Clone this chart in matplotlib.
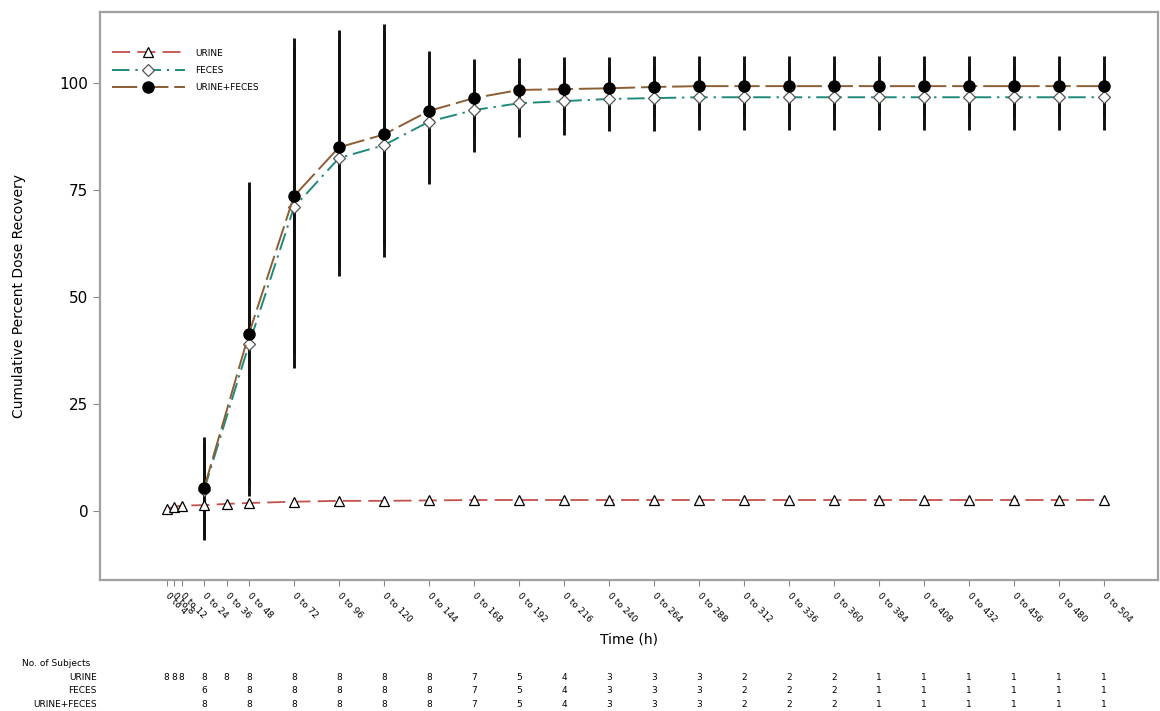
import matplotlib
matplotlib.use("Agg")
import matplotlib.pyplot as plt
import matplotlib.transforms as mtransforms

plt.rcParams['font.family'] = ['DejaVu Sans']

# ---- data ----
urine_time = [4, 8, 12, 24, 36, 48, 72, 96, 120, 144, 168, 192, 216, 240, 264,
              288, 312, 336, 360, 384, 408, 432, 456, 480, 504]
urine_mean = [0.5, 1.0, 1.3, 1.4, 1.7, 1.9, 2.2, 2.4, 2.4, 2.5, 2.6, 2.6, 2.6, 2.6, 2.6,
              2.6, 2.6, 2.6, 2.6, 2.6, 2.6, 2.6, 2.6, 2.6, 2.6]
urine_n = [8, 8, 8, 8, 8, 8, 8, 8, 8, 8, 7, 5, 4, 3, 3, 3, 2, 2, 2, 1, 1, 1, 1, 1, 1]

fec_time = [24, 48, 72, 96, 120, 144, 168, 192, 216, 240, 264, 288, 312, 336, 360,
            384, 408, 432, 456, 480, 504]
fec_mean = [4.9, 39.0, 71.0, 82.5, 85.5, 91.0, 93.7, 95.3, 95.8, 96.3, 96.5, 96.7, 96.7,
            96.7, 96.7, 96.7, 96.7, 96.7, 96.7, 96.7, 96.7]
fec_sd = [11.0, 35.5, 37.5, 27.5, 26.2, 14.5, 9.8, 8.0, 8.0, 7.6, 7.6, 7.6, 7.6,
          7.6, 7.6, 7.6, 7.6, 7.6, 7.6, 7.6, 7.6]
fec_n = [6, 8, 8, 8, 8, 8, 7, 5, 4, 3, 3, 3, 2, 2, 2, 1, 1, 1, 1, 1, 1]

comb_time = fec_time
comb_mean = [5.3, 41.5, 73.6, 85.0, 88.0, 93.5, 96.5, 98.4, 98.6, 98.8, 99.1, 99.3, 99.3,
             99.3, 99.3, 99.3, 99.3, 99.3, 99.3, 99.3, 99.3]
comb_sd = [12.0, 35.5, 37.0, 27.4, 25.8, 14.0, 9.1, 7.4, 7.4, 7.2, 7.2, 7.1, 7.1,
           7.1, 7.1, 7.1, 7.1, 7.1, 7.1, 7.1, 7.1]
comb_n = [8, 8, 8, 8, 8, 8, 7, 5, 4, 3, 3, 3, 2, 2, 2, 1, 1, 1, 1, 1, 1]

tick_hours = urine_time
tick_labels = ["0 to %d" % h for h in tick_hours]
y_ticks = [0, 25, 50, 75, 100]

# ---- figure ----
fig = plt.figure(figsize=(11.6, 7.11), dpi=100)
ax = fig.add_axes([0.0862, 0.1842, 0.9118, 0.7988])

c_urine = '#C4524C'
c_fec = '#1F8A7C'
c_comb = '#8B5E34'

ax.errorbar(fec_time, fec_mean, yerr=fec_sd, fmt='none', ecolor='#111111',
            elinewidth=2.1, capsize=0, zorder=2)
ax.errorbar(comb_time, comb_mean, yerr=comb_sd, fmt='none', ecolor='#111111',
            elinewidth=2.1, capsize=0, zorder=2)

ax.plot(urine_time, urine_mean, color=c_urine, lw=1.3, dashes=(10, 4),
        marker='^', ms=6.5, mfc='white', mec='black', mew=0.9, label='URINE', zorder=3)
ax.plot(fec_time, fec_mean, color=c_fec, lw=1.4, dashes=(9, 3, 1.2, 3),
        marker='D', ms=6, mfc='white', mec='#555555', mew=0.9, label='FECES', zorder=4)
ax.plot(comb_time, comb_mean, color=c_comb, lw=1.4, dashes=(13, 3),
        marker='o', ms=8, mfc='black', mec='black', label='URINE+FECES', zorder=5)

ax.set_xlim(-31.5, 532.8)
ax.set_ylim(-16.1, 116.6)
ax.set_xticks(tick_hours)
ax.set_xticklabels(tick_labels, rotation=-45, rotation_mode='anchor',
                   ha='left', va='center', fontsize=6.5)
ax.set_yticks(y_ticks)
ax.set_yticklabels([str(v) for v in y_ticks], fontsize=11)
ax.tick_params(axis='x', length=4, color='#888888', pad=6)
ax.tick_params(axis='y', length=5, color='#888888')
for s in ax.spines.values():
    s.set_color('#A0A0A0')
    s.set_linewidth(1.6)

ax.set_xlabel('Time (h)', fontsize=10, labelpad=6)
ax.set_ylabel('Cumulative Percent Dose Recovery', fontsize=10, labelpad=24)

leg = ax.legend(loc='upper left', bbox_to_anchor=(0.004, 0.95), frameon=False,
                fontsize=6.5, handlelength=8, handletextpad=1.2, labelspacing=0.9)

# ---- subject count table ----
trans = mtransforms.blended_transform_factory(ax.transData, fig.transFigure)
fig.text(0.019, 0.0675, 'No. of Subjects', fontsize=6.5, ha='left', va='center')
rows = [('URINE', 0.0478, urine_time, urine_n),
        ('FECES', 0.0295, fec_time, fec_n),
        ('URINE+FECES', 0.0098, comb_time, comb_n)]
for name, yy, tt, nn in rows:
    fig.text(0.0836, yy, name, fontsize=6.5, ha='right', va='center')
    for t, n in zip(tt, nn):
        ax.text(t, yy, str(n), transform=trans, fontsize=6.5, ha='center',
                va='center', clip_on=False)

fig.savefig('out.png', dpi=100)
